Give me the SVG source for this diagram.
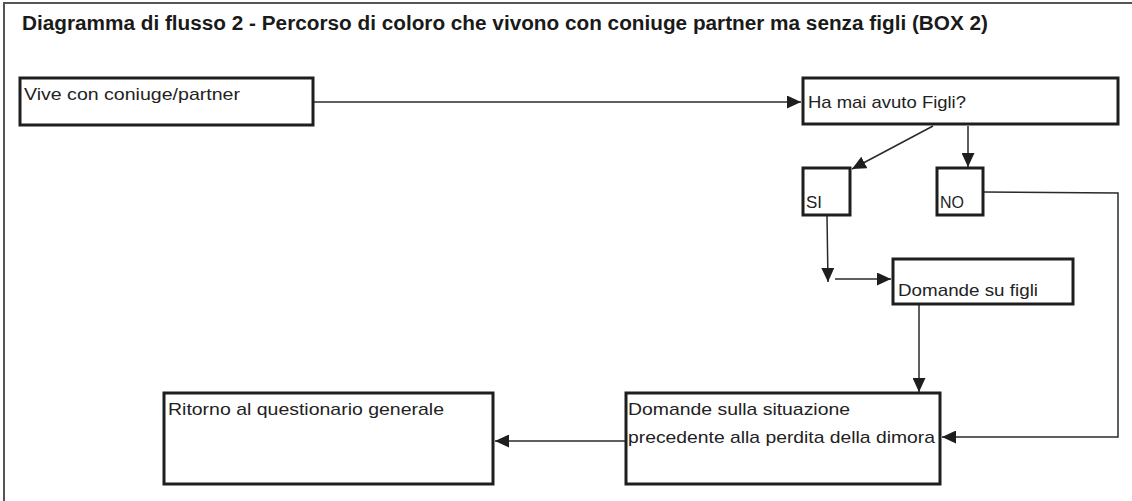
<svg xmlns="http://www.w3.org/2000/svg" width="1132" height="501" viewBox="0 0 1132 501">
<style>
.box{fill:#fff;stroke:#1e1e1e;stroke-width:3}
.lbl{font-family:"Liberation Sans",Arial,sans-serif;font-size:17px;fill:#222}
.title{font-family:"Liberation Sans",Arial,sans-serif;font-size:20px;font-weight:bold;fill:#1a1a1a}
.conn{fill:none;stroke:#2a2a2a;stroke-width:1.5}
.frame{fill:none;stroke:#555;stroke-width:2}
</style>
<defs>
<marker id="arr" markerUnits="userSpaceOnUse" markerWidth="15" markerHeight="13" refX="14" refY="6.5" orient="auto">
<path d="M0,0 L14,6.5 L0,13 Z" fill="#1e1e1e"/>
</marker>
</defs>
<rect width="1132" height="501" fill="#fff"/>
<path class="frame" d="M4,501 V3 H1132"/>
<text class="title" x="22" y="30" textLength="966" lengthAdjust="spacingAndGlyphs">Diagramma di flusso 2 - Percorso di coloro che vivono con coniuge partner ma senza figli (BOX 2)</text>
<g id="connectors">
<path class="conn" d="M313,102 H801" marker-end="url(#arr)"/>
<path class="conn" d="M933,126 L852,169" marker-end="url(#arr)"/>
<path class="conn" d="M968,126 V167" marker-end="url(#arr)"/>
<path class="conn" d="M983,192 L1118,193 V437 H942" marker-end="url(#arr)"/>
<path class="conn" d="M827,216 L828,282" marker-end="url(#arr)"/>
<path class="conn" d="M835,279 H891" marker-end="url(#arr)"/>
<path class="conn" d="M919,305 V392" marker-end="url(#arr)"/>
<path class="conn" d="M625,441 H495" marker-end="url(#arr)"/>
</g>
<g id="n-vive">
<rect class="box" x="20" y="78" width="293" height="47"/>
<text class="lbl" x="24" y="100" textLength="216" lengthAdjust="spacingAndGlyphs">Vive con coniuge/partner</text>
</g>
<g id="n-hamai">
<rect class="box" x="803" y="78" width="315" height="46"/>
<text class="lbl" x="808" y="108" textLength="158" lengthAdjust="spacingAndGlyphs">Ha mai avuto Figli?</text>
</g>
<g id="n-si">
<rect class="box" x="803" y="168" width="47" height="47"/>
<text class="lbl" x="806" y="208" textLength="16" lengthAdjust="spacingAndGlyphs">SI</text>
</g>
<g id="n-no">
<rect class="box" x="937" y="168" width="46" height="47"/>
<text class="lbl" x="940" y="208" textLength="24" lengthAdjust="spacingAndGlyphs">NO</text>
</g>
<g id="n-figli">
<rect class="box" x="893" y="259" width="180" height="45"/>
<text class="lbl" x="898" y="296" textLength="140" lengthAdjust="spacingAndGlyphs">Domande su figli</text>
</g>
<g id="n-situazione">
<rect class="box" x="626" y="393" width="314" height="91"/>
<text class="lbl" x="628" y="415" textLength="222" lengthAdjust="spacingAndGlyphs">Domande sulla situazione</text>
<text class="lbl" x="628" y="443" textLength="307" lengthAdjust="spacingAndGlyphs">precedente alla perdita della dimora</text>
</g>
<g id="n-ritorno">
<rect class="box" x="164" y="393" width="329" height="91"/>
<text class="lbl" x="168" y="415" textLength="276" lengthAdjust="spacingAndGlyphs">Ritorno al questionario generale</text>
</g>
</svg>
